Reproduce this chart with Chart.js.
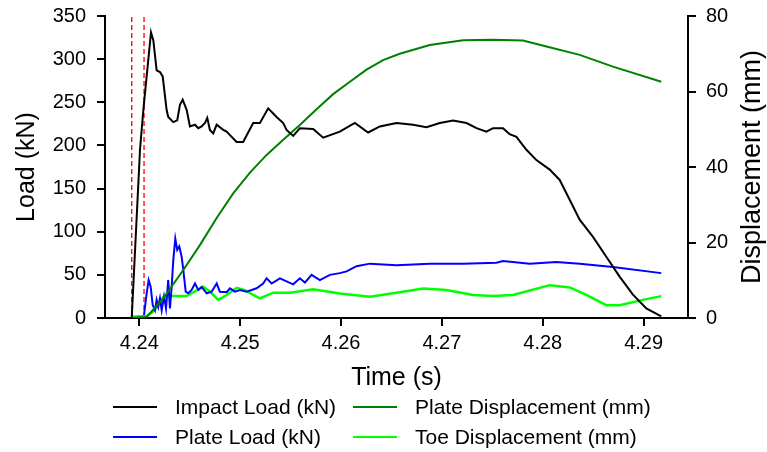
<!DOCTYPE html>
<html><head><meta charset="utf-8">
<script src="https://cdn.jsdelivr.net/npm/chart.js@4.4.1/dist/chart.umd.min.js"></script>
<style>html,body{margin:0;padding:0;background:#fff;}canvas{display:block;}</style>
</head><body>
<canvas id="c" width="767" height="452"></canvas>
<script>
// ---- data ----
const impactTime = [4.23925,4.24007,4.24040,4.24116,4.24139,4.24172,4.24205,4.24232,4.24271,4.24287,4.24337,4.24376,4.24403,4.24430,4.24470,4.24502,4.24552,4.24585,4.24618,4.24651,4.24674,4.24700,4.24733,4.24767,4.24832,4.24866,4.24899,4.24965,4.25030,4.25129,4.25196,4.25278,4.25361,4.25427,4.25460,4.25526,4.25592,4.25724,4.25823,4.25988,4.26137,4.26269,4.26385,4.26550,4.26714,4.26847,4.26979,4.27111,4.27244,4.27343,4.27442,4.27507,4.27606,4.27672,4.27739,4.27838,4.27937,4.28069,4.28168,4.28267,4.28366,4.28498,4.28630,4.28762,4.28894,4.29027,4.29175];
const impactLoad = [0,195,241,331,322,287,285,280,241,233,227,229,247,253,241,222,224,220,222,226,232,218,214,224,218,216,212,204,204,226,226,243,233,226,218,211,220,219,209,216,226,215,222,226,224,221,226,229,226,220,216,220,220,213,210,195,183,172,160,137,114,94,71,48,27,11,2];

const plateLoadTime = [4.24047,4.24073,4.24093,4.24113,4.24133,4.24156,4.24172,4.24188,4.24205,4.24222,4.24245,4.24265,4.24287,4.24304,4.24321,4.24337,4.24357,4.24376,4.24396,4.24420,4.24436,4.24460,4.24485,4.24519,4.24552,4.24585,4.24618,4.24668,4.24717,4.24767,4.24799,4.24866,4.24899,4.24948,4.24998,4.25064,4.25114,4.25163,4.25228,4.25262,4.25312,4.25394,4.25526,4.25592,4.25642,4.25708,4.25790,4.25889,4.25988,4.26055,4.26154,4.26286,4.26550,4.26880,4.27210,4.27541,4.27606,4.27871,4.28135,4.28366,4.28696,4.29175];
const plateLoad = [3.5,28.6,44,36,15,9,21,13,23,9,25,11,44,11,36,67,92,79,83,71,56,30.5,28.6,32.5,40,32.5,36,28.6,30.5,40,30.5,30,34.4,30.5,32.5,30.5,32.5,34.4,40,46,40,46,39,46,41,50,44,50,52,54,60,63,61,63,63,64,66,63,65,63,59,52];

const plateDispTime = [4.23925,4.24073,4.24238,4.24436,4.24601,4.24767,4.24931,4.25097,4.25262,4.25427,4.25592,4.25757,4.25922,4.26088,4.26253,4.26417,4.26582,4.26880,4.27210,4.27507,4.27804,4.28036,4.28366,4.28696,4.29175];
const plateDisp = [0,0.3,5.2,12.7,19.3,26.5,33.0,38.5,43.2,47.2,51.1,55.3,59.3,62.6,65.8,68.3,70.0,72.3,73.6,73.7,73.5,71.9,69.7,66.6,62.6];

const toeDispTime = [4.23925,4.24073,4.24139,4.24238,4.24304,4.24470,4.24634,4.24700,4.24783,4.24866,4.24965,4.25047,4.25129,4.25196,4.25328,4.25493,4.25724,4.25988,4.26286,4.26550,4.26814,4.27045,4.27309,4.27507,4.27705,4.28069,4.28267,4.28432,4.28630,4.28762,4.28993,4.29175];
const toeDisp = [0.3,0.5,1.7,5.5,5.8,5.8,8.3,7.0,4.8,6.1,8.0,7.4,6.1,5.2,6.7,6.7,7.6,6.5,5.6,6.7,7.8,7.4,6.1,5.8,6.1,8.7,8.1,6.1,3.4,3.4,4.8,5.8];

const markerTimes = [4.23925, 4.24047];
const xTickValues = [4.24, 4.25, 4.26, 4.27, 4.28, 4.29];
const xRange = [4.2366, 4.2944];
const loadRange = [0, 350];
const dispRange = [0, 80];

// ---- chart ----
const FONT = "'Liberation Sans', Arial, Helvetica, sans-serif";
const pts = (xs, ys) => xs.map((x, i) => ({x: x, y: ys[i]}));

const datasets = [
  {label: 'Impact Load (kN)', data: pts(impactTime, impactLoad), borderColor: '#000000', borderWidth: 2, yAxisID: 'y', legend: true},
  {label: 'Plate Displacement (mm)', data: pts(plateDispTime, plateDisp), borderColor: '#008000', borderWidth: 2, yAxisID: 'y2', legend: true},
  {label: 'Plate Load (kN)', data: pts(plateLoadTime, plateLoad), borderColor: '#0000ff', borderWidth: 2, yAxisID: 'y', legend: true},
  {label: 'Toe Displacement (mm)', data: pts(toeDispTime, toeDisp), borderColor: '#00ff00', borderWidth: 2.5, yAxisID: 'y2', legend: true}
];
markerTimes.forEach(t => datasets.push({
  label: 'marker', data: [{x: t, y: loadRange[0]}, {x: t, y: loadRange[1]}],
  borderColor: '#ff0000', borderWidth: 1.3, borderDash: [5, 3], yAxisID: 'y', legend: false
}));
datasets.forEach(d => { d.pointRadius = 0; d.fill = false; d.tension = 0; });

const gridLegend = {
  id: 'gridLegend',
  afterDraw(chart) {
    const ctx = chart.ctx;
    const items = chart.data.datasets.filter(d => d.legend);
    const colX = [113, 353];
    const rowY = [407, 437];
    ctx.save();
    ctx.font = '21px ' + FONT;
    ctx.textBaseline = 'middle';
    ctx.textAlign = 'left';
    items.forEach((d, i) => {
      const x = colX[i % 2], y = rowY[Math.floor(i / 2)];
      ctx.strokeStyle = d.borderColor;
      ctx.lineWidth = 2;
      ctx.beginPath(); ctx.moveTo(x, y); ctx.lineTo(x + 44, y); ctx.stroke();
      ctx.fillStyle = '#000';
      ctx.fillText(d.label, x + 62, y + 1);
    });
    ctx.restore();
  }
};

const rightTitle = {
  id: 'rightTitle',
  afterDraw(chart) {
    const ctx = chart.ctx, s = chart.scales.y2, a = chart.chartArea;
    ctx.save();
    ctx.translate(s.right - 14, (a.top + a.bottom) / 2);
    ctx.rotate(-Math.PI / 2);
    ctx.font = '27px ' + FONT;
    ctx.fillStyle = '#000';
    ctx.textAlign = 'center';
    ctx.textBaseline = 'middle';
    ctx.fillText('Displacement (mm)', 0, 0);
    ctx.restore();
  }
};

const axisGrid = {drawOnChartArea: false, drawTicks: true, tickLength: 8, lineWidth: 2, color: '#000'};
const axisBorder = {display: true, color: '#000', width: 2};
const fixWidth = w => s => { s.width = w; s.paddingTop = 0; s.paddingBottom = 0; };

new Chart(document.getElementById('c'), {
  type: 'line',
  data: {datasets: datasets},
  plugins: [gridLegend, rightTitle],
  options: {
    responsive: false,
    animation: false,
    devicePixelRatio: 1,
    layout: {padding: {top: 16, bottom: 59, left: 0, right: 0}},
    plugins: {legend: {display: false}, tooltip: {enabled: false}},
    scales: {
      x: {
        type: 'linear', min: xRange[0], max: xRange[1],
        afterBuildTicks: s => { s.ticks = xTickValues.map(v => ({value: v})); },
        afterFit: s => { s.height = 75; s.paddingLeft = 0; s.paddingRight = 0; },
        grid: axisGrid, border: axisBorder,
        ticks: {font: {family: FONT, size: 20}, color: '#000', padding: 5, maxRotation: 0, callback: v => Number(v).toFixed(2)},
        title: {display: true, text: 'Time (s)', font: {family: FONT, size: 25, lineHeight: 1.2}, color: '#000', padding: 0}
      },
      y: {
        position: 'left', min: loadRange[0], max: loadRange[1],
        afterFit: fixWidth(105),
        grid: axisGrid, border: axisBorder,
        ticks: {stepSize: 50, font: {family: FONT, size: 20}, color: '#000', padding: 11},
        title: {display: true, text: 'Load (kN)', font: {family: FONT, size: 25, lineHeight: 1.2}, color: '#000', padding: {top: 12, bottom: 0}}
      },
      y2: {
        position: 'right', min: dispRange[0], max: dispRange[1],
        afterFit: fixWidth(79),
        grid: axisGrid, border: axisBorder,
        ticks: {stepSize: 20, font: {family: FONT, size: 20}, color: '#000', padding: 10}
      }
    }
  }
});
</script>
</body></html>
